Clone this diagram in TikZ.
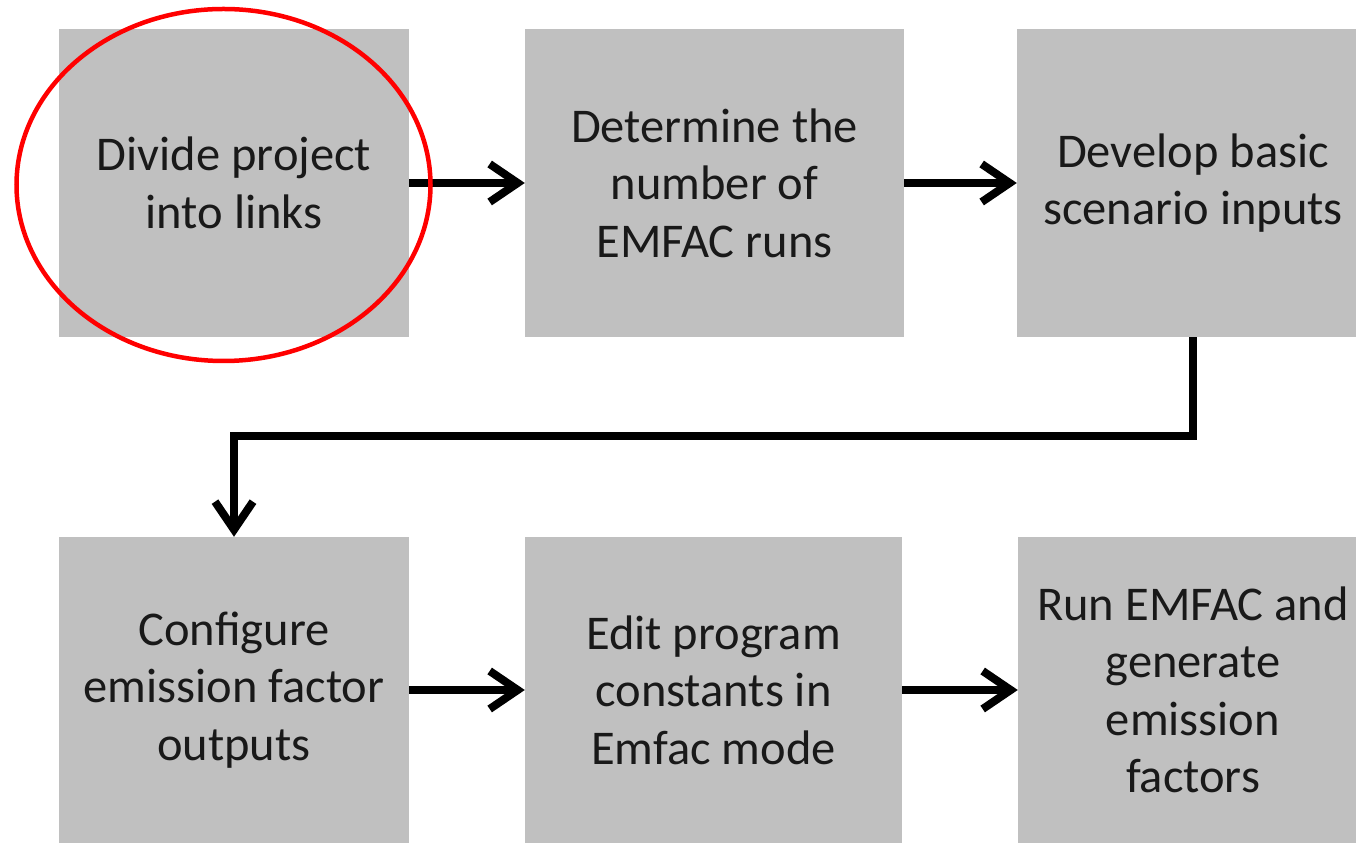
\documentclass[tikz,border=0pt]{standalone}
\usepackage{fontspec}
\setmainfont{Carlito}
\usetikzlibrary{arrows.meta,calc,shapes.geometric}
\definecolor{boxgray}{HTML}{C0C0C0}
\tikzset{
  stepbox/.style={fill=boxgray, draw=none, inner sep=0pt, align=center,
    font=\fontsize{48.5}{57.5}\selectfont, text=black!90},
  flow/.style={line width=8pt, draw=black,
    -{Straight Barb[length=28pt,width=38pt,line width=8pt]}},
}
\begin{document}
\begin{tikzpicture}[x=1pt,y=1pt]
\useasboundingbox (0,0) rectangle (1356,843);
\node[stepbox, minimum width=350pt, minimum height=308pt] (b1) at (234,660) {Divide project\\into links};
\node[stepbox, minimum width=379pt, minimum height=308pt] (b2) at (714.5,660) {Determine the\\number of\\EMFAC runs};
\node[stepbox, minimum width=352pt, minimum height=308pt] (b3) at (1193,660) {Develop basic\\scenario inputs};
\node[stepbox, minimum width=350pt, minimum height=306pt] (b4) at (234,153) {Configure\\emission factor\\outputs};
\node[stepbox, minimum width=377pt, minimum height=306pt] (b5) at (713.5,153) {Edit program\\constants in\\Emfac mode};
\node[stepbox, minimum width=350pt, minimum height=306pt] (b6) at (1193,153) {Run EMFAC and\\generate\\emission\\factors};
\draw[flow] (b1.east) -- (b2.west);
\draw[flow] (b2.east) -- (b3.west);
\coordinate (e1) at (1193,407);
\draw[flow, line join=miter] (b3.south) -- (e1) -| (b4.north);
\draw[flow] (b4.east) -- (b5.west);
\draw[flow] (b5.east) -- (b6.west);
\node[draw=red, line width=4.5pt, ellipse, inner sep=0pt, minimum width=414pt, minimum height=352pt] (ring) at (223.5,658) {};
\end{tikzpicture}
\end{document}
